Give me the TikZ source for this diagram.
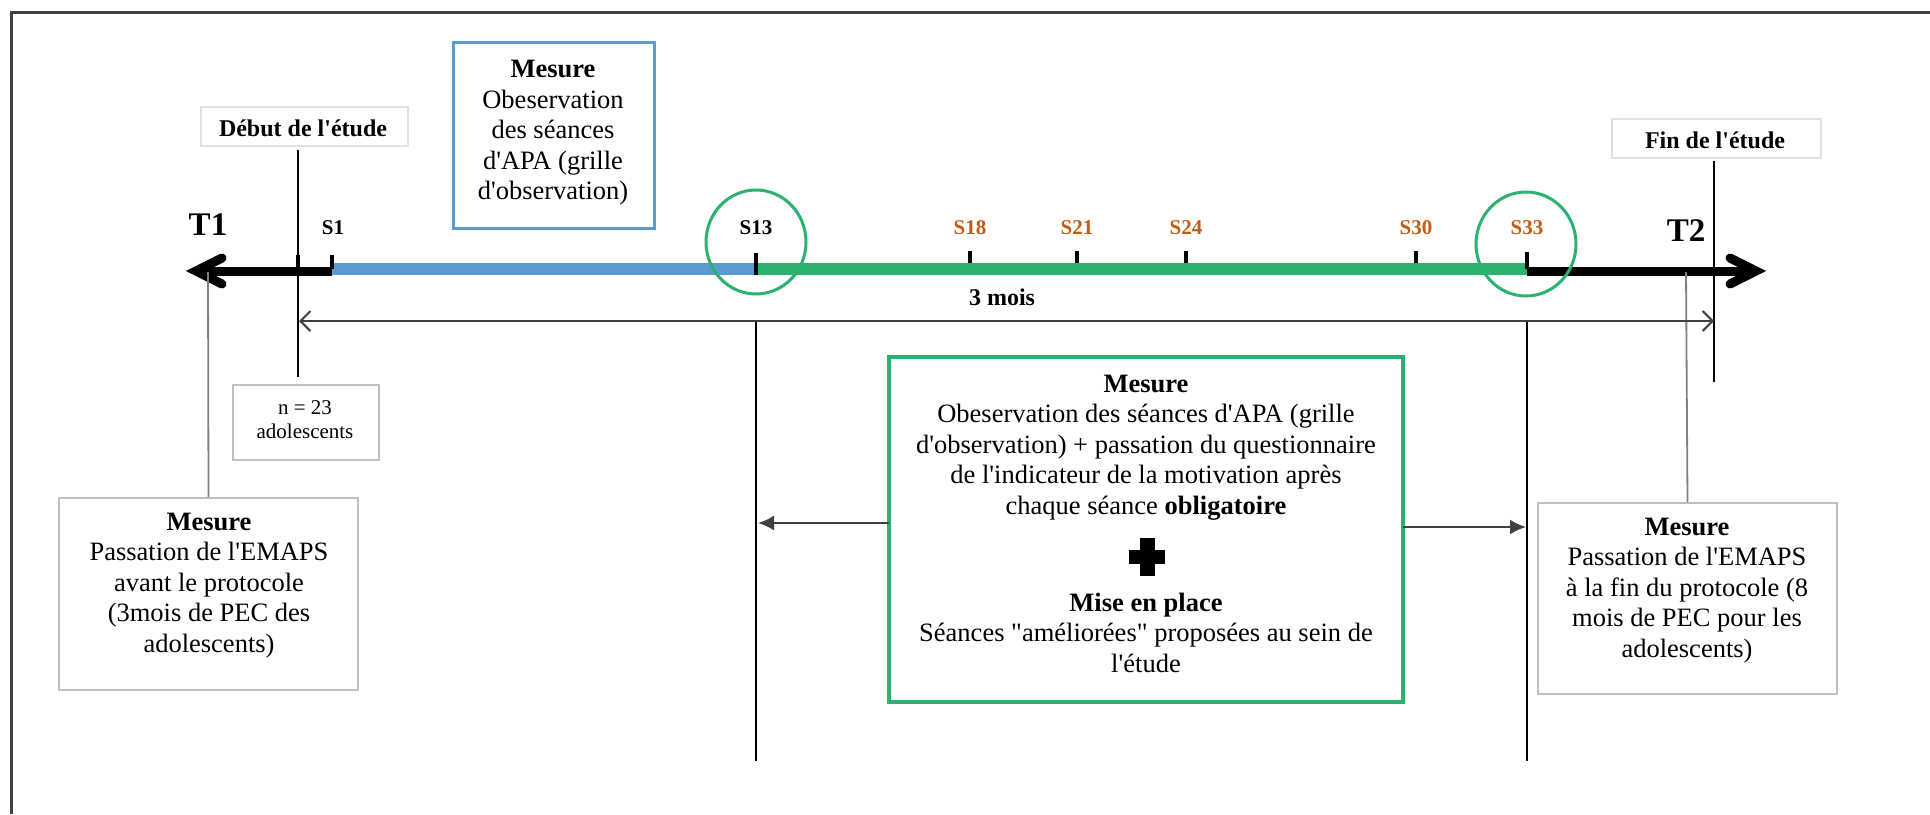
\documentclass[tikz,border=0pt]{standalone}
\usepackage{fontspec}
\setmainfont{Liberation Serif}[Ligatures=TeXOff]
\usetikzlibrary{arrows.meta}
\definecolor{axblue}{RGB}{91,155,213}
\definecolor{axgreen}{RGB}{44,178,112}
\definecolor{sorange}{RGB}{197,90,17}
\definecolor{boxgray}{RGB}{191,191,191}
\definecolor{lightgraybox}{RGB}{225,225,225}
\definecolor{framegray}{RGB}{64,64,64}
\definecolor{tgray}{RGB}{128,128,128}
\begin{document}
\begin{tikzpicture}[x=1pt,y=-1pt,
  txt/.style={font=\fontsize{26.5}{30.5}\selectfont, align=center, inner sep=0pt},
  graybox/.style={draw=boxgray, line width=2pt, inner sep=0pt},
  slab/.style={font=\bfseries\fontsize{21}{24}\selectfont, inner sep=0pt},
  tlab/.style={font=\bfseries\fontsize{33}{36}\selectfont, inner sep=0pt},
  hlab/.style={font=\bfseries\fontsize{24}{28}\selectfont, inner sep=0pt},
  ticksty/.style={line width=4pt},
  vline/.style={line width=2pt},
  tline/.style={draw=tgray, line width=1.8pt},
  chev/.style={line width=9pt, line join=miter, line cap=round},
  conn/.style={draw=framegray, line width=2.2pt, -{Latex[length=16pt,width=15pt]}},
]
\useasboundingbox (0,0) rectangle (1930,814);
\fill[white] (0,0) rectangle (1930,814);
\draw[framegray, line width=3pt] (1930,12) -- (11,12) -- (11,814);

% boxes
\node[graybox, draw=lightgraybox, minimum width=207pt, minimum height=39pt] (debutbox) at (304.5,126.5) {};
\node[hlab] (debut) at (303,128) {Début de l'étude};
\node[graybox, draw=lightgraybox, minimum width=209pt, minimum height=39pt] (finbox) at (1716.5,138.5) {};
\node[hlab] (fin) at (1715,140) {Fin de l'étude};

\node[draw=axblue, line width=3pt, inner sep=0pt, minimum width=201pt, minimum height=186pt] (bluebox) at (553.5,135) {};
\node[txt] (bluetxt) at (553,133) {\textbf{Mesure}\\Obeservation\\des séances\\d'APA (grille\\d'observation)};

\node[graybox, minimum width=146pt, minimum height=75pt] (nbox) at (306,422.5) {};
\node[font=\fontsize{21}{24}\selectfont, align=center, inner sep=0pt] (ntxt) at (305,420) {n = 23\\adolescents};

\node[graybox, minimum width=299pt, minimum height=192pt] (mesL) at (208.5,594) {};
\node[txt] (mesLt) at (209,585.5) {\textbf{Mesure}\\Passation de l'EMAPS\\avant le protocole\\(3mois de PEC des\\adolescents)};

\node[graybox, minimum width=299pt, minimum height=191pt] (mesR) at (1687.5,598.5) {};
\node[txt] (mesRt) at (1687,590.5) {\textbf{Mesure}\\Passation de l'EMAPS\\à la fin du protocole (8\\mois de PEC pour les\\adolescents)};

\node[draw=axgreen, line width=3.5pt, inner sep=0pt, minimum width=514pt, minimum height=345pt] (greenbox) at (1146,529.5) {};
\node[txt] (g1) at (1146,447.5) {\textbf{Mesure}\\Obeservation des séances d'APA (grille\\d'observation) + passation du questionnaire\\de l'indicateur de la motivation après\\chaque séance \textbf{obligatoire}};
\fill (1129,550) rectangle (1165,564);
\fill (1139.5,538) rectangle (1154.5,576);
\node[txt] (g2) at (1146,632.5) {\textbf{Mise en place}\\Séances "améliorées" proposées au sein de\\l'étude};

% timeline
\foreach \x in {970,1077,1186,1416} \draw[ticksty] (\x,251) -- (\x,265);
\draw[axblue, line width=12pt] (332,269) -- (756,269);
\draw[axgreen, line width=12pt] (756,269) -- (1527,269);
\draw[line width=9pt] (196,271) -- (332,271);
\draw[line width=9pt] (1527,271) -- (1756,271);
\draw[chev] (222,258) -- (196,271) -- (222,284);
\draw[chev] (1730,258) -- (1756,271) -- (1730,284);
\draw[ticksty] (298,255) -- (298,269);
\draw[ticksty] (332,255) -- (332,269);
\draw[ticksty] (756,253) -- (756,275);
\draw[ticksty] (1527,252) -- (1527,269);

\node[tlab] (T1) at (208,225) {T1};
\node[tlab] (T2) at (1686,231) {T2};
\node[slab] (S1) at (333,228) {S1};
\node[slab] (S13) at (756,228) {S13};
\node[slab, text=sorange] (S18) at (970,228) {S18};
\node[slab, text=sorange] (S21) at (1077,228) {S21};
\node[slab, text=sorange] (S24) at (1186,228) {S24};
\node[slab, text=sorange] (S30) at (1416,228) {S30};
\node[slab, text=sorange] (S33) at (1527,228) {S33};

\draw[axgreen, line width=3pt] (756,242) ellipse [x radius=50pt, y radius=52pt];
\draw[axgreen, line width=3pt] (1526,244) ellipse [x radius=50pt, y radius=52pt];

\node[font=\bfseries\fontsize{24}{28}\selectfont, inner sep=0pt] (mois) at (1002,297) {3 mois};

% connectors
\coordinate (debtop) at (298,150);
\coordinate (debbot) at (298,377);
\coordinate (fintop) at (1714,161);
\coordinate (finbot) at (1714,382);
\coordinate (brL) at (299,321);
\coordinate (brR) at (1714,321);
\coordinate (s13top) at (756,322);
\coordinate (s13bot) at (756,761);
\coordinate (s33top) at (1527,322);
\coordinate (s33bot) at (1527,761);
\coordinate (t1a) at (208,272);
\coordinate (t2a) at (1686,272);
\coordinate (la) at (889,523);
\coordinate (lb) at (758,523);
\coordinate (ra) at (1403,527);
\coordinate (rb) at (1526,527);

\draw[vline] (debtop) -- (debbot);
\draw[vline] (fintop) -- (finbot);
\draw[vline] (s13top) -- (s13bot);
\draw[vline] (s33top) -- (s33bot);
\draw[tline] (t1a) -- (mesL.north);
\draw[tline] (t2a) -- (mesR.north);
\draw[framegray, line width=2pt, {Straight Barb[length=10pt,width=20pt]}-{Straight Barb[length=10pt,width=20pt]}] (brL) -- (brR);
\draw[conn] (la) -- (lb);
\draw[conn] (ra) -- (rb);
\end{tikzpicture}
\end{document}
